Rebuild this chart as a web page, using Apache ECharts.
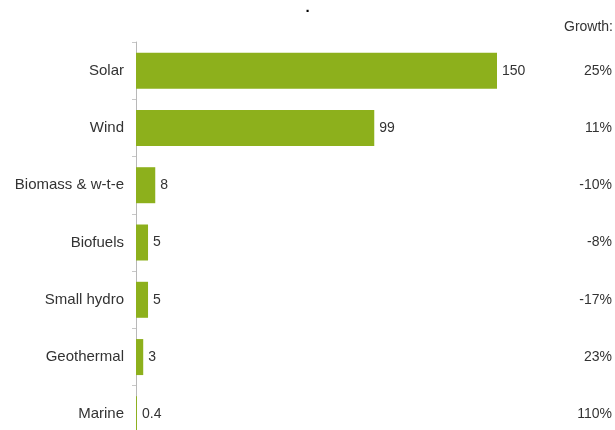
<!DOCTYPE html>
<html>
<head>
<meta charset="utf-8">
<script src="https://cdn.jsdelivr.net/npm/echarts@6/dist/echarts.min.js"></script>
<style>
  html, body { margin: 0; padding: 0; background: #fff; overflow: hidden; }
  #chart { width: 615px; height: 450px; }
</style>
</head>
<body>
<div id="chart"></div>
<script>
const categories = ['Solar', 'Wind', 'Biomass & w-t-e', 'Biofuels', 'Small hydro', 'Geothermal', 'Marine'];
const capacity = [150, 99, 8, 5, 5, 3, 0.4];
const growth = ['25%', '11%', '-10%', '-8%', '-17%', '23%', '110%'];

const chart = echarts.init(document.getElementById('chart'));
const textColor = '#333';
const font = 'Liberation Sans, Arial, sans-serif';

// the last row runs past the bottom edge of the window, so the canvas is a bit taller than 430
chart.setOption({
  animation: false,
  title: {
    text: '.',
    left: 'center',
    top: -5,
    textStyle: { fontSize: 15, fontWeight: 'bold', color: '#000' }
  },
  graphic: [{
    type: 'text',
    right: 2,
    top: 20,
    style: { text: 'Growth:', fontSize: 14, fill: textColor, fontFamily: font }
  }],
  grid: { left: 136, top: 42, width: 361, height: 401 },
  xAxis: {
    type: 'value',
    min: 0,
    max: 150,
    show: false
  },
  yAxis: [
    {
      type: 'category',
      inverse: true,
      data: categories,
      axisLine: { lineStyle: { color: '#b8b8b8', width: 1 } },
      axisTick: { show: true, length: 4, lineStyle: { color: '#c8c8c8' } },
      axisLabel: { color: textColor, fontSize: 15, fontFamily: font, margin: 12 }
    },
    {
      type: 'category',
      inverse: true,
      position: 'right',
      data: growth,
      axisLine: { show: false },
      axisTick: { show: false },
      axisLabel: { color: textColor, fontSize: 14, fontFamily: font, margin: 115, align: 'right' }
    }
  ],
  series: [{
    type: 'bar',
    data: capacity,
    barWidth: 36,
    itemStyle: { color: '#8db01c' },
    label: {
      show: true,
      position: 'right',
      distance: 5,
      color: textColor,
      fontSize: 14,
      fontFamily: font
    }
  }]
});
</script>
</body>
</html>
